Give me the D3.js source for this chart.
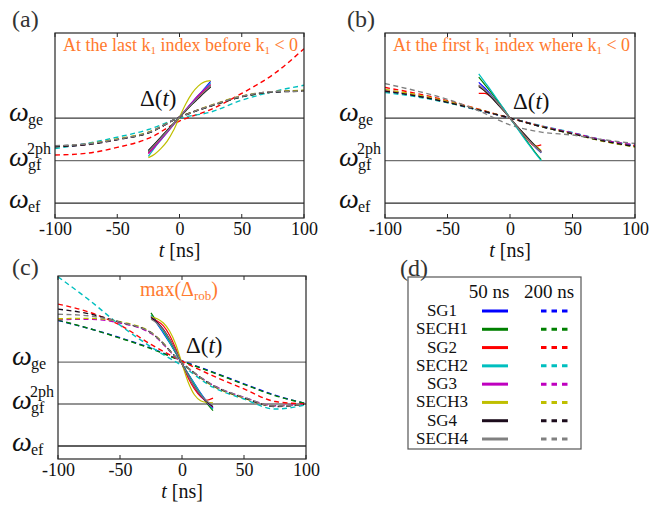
<!DOCTYPE html>
<html><head><meta charset="utf-8">
<script src="https://cdn.jsdelivr.net/npm/d3@7"></script>
<style>
body{margin:0;background:#fff}
svg{display:block}
svg text{font-family:"Liberation Serif","Tinos","Times New Roman","Nimbus Roman","DejaVu Serif",serif !important}
</style>
</head><body>
<svg id="chart" width="654" height="507"></svg>
<script>
// ---------- data ----------
const seriesNames  = ["SG1","SECH1","SG2","SECH2","SG3","SECH3","SG4","SECH4"];
const seriesColors = ["#0000ff","#008000","#ff0000","#00bfbf","#bf00bf","#bfbf00","#1c0c1c","#808080"];
const tShort = [-25,-20,-15,-10,-5,0,5,10,15,20,25];      // 50 ns pulses
const tLong  = [-100,-75,-50,-25,0,25,50,75,100];         // 200 ns pulses
const xTicks = [-100,-50,0,50,100];
const levelNames  = ["ge","gf","ef"];
const levelValues = [0,-1,-2];                            // ω_ge, ω_gf^2ph, ω_ef

// panel (a): at the last k1 index before k1 < 0
const panelA_50ns = [
  [-0.80,-0.64,-0.48,-0.32,-0.15,0.02,0.19,0.36,0.52,0.69,0.86],
  [-0.78,-0.62,-0.46,-0.30,-0.14,0.02,0.17,0.32,0.47,0.61,0.74],
  [-0.82,-0.66,-0.49,-0.33,-0.16,0.02,0.18,0.34,0.50,0.65,0.78],
  [-0.90,-0.70,-0.52,-0.34,-0.16,0.02,0.19,0.36,0.53,0.68,0.82],
  [-0.84,-0.68,-0.51,-0.34,-0.16,0.02,0.20,0.37,0.53,0.67,0.79],
  [-0.93,-0.85,-0.72,-0.55,-0.30,0.02,0.33,0.58,0.75,0.85,0.88],
  [-0.76,-0.61,-0.45,-0.29,-0.13,0.02,0.17,0.32,0.46,0.60,0.73],
  [-0.79,-0.63,-0.47,-0.31,-0.14,0.02,0.18,0.33,0.48,0.62,0.76]
];
const panelA_200ns = [
  [-0.66,-0.61,-0.50,-0.34,0.02,0.29,0.51,0.61,0.64],
  [-0.68,-0.62,-0.50,-0.35,0.02,0.28,0.50,0.61,0.65],
  [-0.87,-0.83,-0.69,-0.48,-0.07,0.20,0.58,1.02,1.63],
  [-0.72,-0.60,-0.45,-0.27,0.00,0.14,0.42,0.62,0.77],
  [-0.67,-0.62,-0.50,-0.34,0.02,0.29,0.51,0.62,0.64],
  [-0.66,-0.61,-0.49,-0.33,0.02,0.30,0.52,0.62,0.65],
  [-0.67,-0.63,-0.51,-0.35,0.02,0.28,0.50,0.61,0.63],
  [-0.65,-0.61,-0.50,-0.34,0.02,0.29,0.51,0.62,0.63]
];
// panel (b): at the first k1 index where k1 < 0
const panelB_50ns = [
  [0.84,0.70,0.54,0.37,0.19,0.00,-0.18,-0.36,-0.53,-0.68,-0.82],
  [0.96,0.78,0.60,0.41,0.21,0.00,-0.20,-0.40,-0.60,-0.80,-0.98],
  [0.58,0.58,0.50,0.36,0.19,0.00,-0.19,-0.37,-0.53,-0.66,-0.63],
  [1.04,0.84,0.64,0.43,0.22,0.00,-0.21,-0.42,-0.62,-0.82,-1.00],
  [0.78,0.65,0.50,0.34,0.17,0.00,-0.17,-0.34,-0.50,-0.65,-0.78],
  [0.76,0.64,0.50,0.34,0.17,0.00,-0.17,-0.34,-0.50,-0.64,-0.76],
  [0.74,0.63,0.49,0.33,0.17,0.00,-0.17,-0.33,-0.49,-0.65,-0.80],
  [0.77,0.66,0.52,0.36,0.18,0.00,-0.18,-0.36,-0.52,-0.67,-0.81]
];
const panelB_200ns = [
  [0.64,0.53,0.38,0.19,0.00,-0.20,-0.36,-0.53,-0.66],
  [0.65,0.53,0.37,0.19,0.00,-0.20,-0.37,-0.54,-0.67],
  [0.72,0.58,0.41,0.21,0.00,-0.19,-0.35,-0.52,-0.65],
  [0.60,0.50,0.36,0.18,0.00,-0.18,-0.34,-0.52,-0.64],
  [0.66,0.54,0.38,0.19,0.00,-0.19,-0.35,-0.52,-0.63],
  [0.67,0.55,0.39,0.20,0.00,-0.20,-0.37,-0.55,-0.68],
  [0.63,0.52,0.37,0.19,0.00,-0.20,-0.37,-0.54,-0.67],
  [0.81,0.64,0.44,0.17,-0.16,-0.33,-0.40,-0.51,-0.60]
];
// panel (c): max(Δ_rob)
const panelC_50ns = [
  [1.10,0.91,0.69,0.46,0.21,-0.04,-0.28,-0.51,-0.74,-0.94,-1.10],
  [1.17,0.95,0.73,0.48,0.22,-0.04,-0.29,-0.54,-0.77,-0.98,-1.16],
  [1.02,0.98,0.86,0.64,0.32,-0.04,-0.38,-0.64,-0.82,-0.91,-0.86],
  [1.12,0.92,0.71,0.47,0.22,-0.04,-0.29,-0.52,-0.75,-0.95,-1.12],
  [1.08,0.95,0.78,0.55,0.27,-0.04,-0.33,-0.59,-0.80,-0.96,-1.08],
  [1.08,1.03,0.93,0.74,0.42,-0.04,-0.48,-0.78,-0.92,-0.96,-0.97],
  [1.06,0.94,0.77,0.54,0.26,-0.04,-0.32,-0.58,-0.79,-0.95,-1.06],
  [1.02,0.92,0.76,0.54,0.26,-0.04,-0.32,-0.58,-0.78,-0.93,-1.03]
];
const panelC_200ns = [
  [0.99,0.80,0.58,0.33,0.03,-0.24,-0.52,-0.79,-0.99],
  [1.00,0.80,0.57,0.32,0.02,-0.25,-0.53,-0.80,-0.99],
  [1.38,1.19,0.88,0.42,0.02,-0.33,-0.64,-0.94,-1.00],
  [2.03,1.48,0.88,0.36,-0.09,-0.60,-0.88,-1.12,-1.02],
  [1.01,1.02,0.93,0.68,-0.03,-0.55,-0.84,-1.04,-1.00],
  [1.03,1.04,0.96,0.71,-0.02,-0.57,-0.86,-1.05,-1.00],
  [1.26,1.15,0.95,0.70,-0.02,-0.56,-0.85,-1.06,-1.00],
  [1.14,1.10,0.95,0.70,-0.02,-0.55,-0.84,-1.05,-1.00]
];

// ---------- layout ----------
const FONT = '"Liberation Serif","Tinos","Times New Roman","Nimbus Roman","DejaVu Serif",serif';
const svg = d3.select("#chart");
const orange = "#ff7a2e";
const panels = [
  {id:"a", label:"(a)", lx:12, ly:27, x0:55, x1:304, y0:33, y1:218, dom:[-2.35,2.0],
   s:panelA_50ns, l:panelA_200ns, dx:140, dy:106, geCol:"#3a3a3a", gfCol:"#707070",
   note:["At the last k","1"," index before k","1"," < 0"], nx:63, ny:51},
  {id:"b", label:"(b)", lx:347, ly:27, x0:385, x1:635, y0:33, y1:218, dom:[-2.35,2.0],
   s:panelB_50ns, l:panelB_200ns, dx:513, dy:109, geCol:"#3a3a3a", gfCol:"#707070",
   note:["At the first k","1"," index where k","1"," < 0"], nx:393, ny:51},
  {id:"c", label:"(c)", lx:12, ly:275, x0:58, x1:306, y0:276, y1:459, dom:[-2.31,2.05],
   s:panelC_50ns, l:panelC_200ns, dx:186, dy:353, geCol:"#707070", gfCol:"#707070",
   note:null, nx:140, ny:296}
];

panels.forEach(p => {
  const x = d3.scaleLinear().domain([-100,100]).range([p.x0,p.x1]);
  const y = d3.scaleLinear().domain(p.dom).range([p.y1,p.y0]);
  const g = svg.append("g").attr("font-family",FONT);
  const clipId = "clip-" + p.id;
  svg.append("clipPath").attr("id",clipId).append("rect")
    .attr("x",p.x0).attr("y",p.y0).attr("width",p.x1-p.x0).attr("height",p.y1-p.y0);

  const lvlCols = [p.geCol, p.gfCol, "#2a2a2a"];
  levelValues.forEach((v,i) => {
    g.append("line").attr("x1",p.x0).attr("x2",p.x1).attr("y1",y(v)).attr("y2",y(v))
      .attr("stroke",lvlCols[i]).attr("stroke-width",1.3);
  });

  const lineS = d3.line().x((d,i)=>x(tShort[i])).y(d=>y(d)).curve(d3.curveMonotoneX);
  const lineL = d3.line().x((d,i)=>x(tLong[i])).y(d=>y(d)).curve(d3.curveMonotoneX);
  const plot = g.append("g").attr("clip-path",`url(#${clipId})`);
  p.l.forEach((vals,k) => {
    plot.append("path").attr("d",lineL(vals)).attr("fill","none")
      .attr("stroke",seriesColors[k]).attr("stroke-width",1.4).attr("stroke-dasharray","5,3.5");
  });
  p.s.forEach((vals,k) => {
    plot.append("path").attr("d",lineS(vals)).attr("fill","none")
      .attr("stroke",seriesColors[k]).attr("stroke-width",1.2);
  });

  g.append("rect").attr("x",p.x0).attr("y",p.y0).attr("width",p.x1-p.x0).attr("height",p.y1-p.y0)
    .attr("fill","none").attr("stroke","#262626").attr("stroke-width",1.2);

  const ax = g.append("g").attr("transform",`translate(0,${p.y1})`)
    .call(d3.axisBottom(x).tickValues(xTicks).tickSize(0).tickPadding(4).tickFormat(d=>String(d)));
  ax.attr("font-family",FONT).attr("font-size",18);
  ax.select(".domain").remove();
  ax.selectAll("text").attr("fill","#111");
  xTicks.forEach(t => {
    g.append("line").attr("x1",x(t)).attr("x2",x(t)).attr("y1",p.y1).attr("y2",p.y1-4).attr("stroke","#262626");
    g.append("line").attr("x1",x(t)).attr("x2",x(t)).attr("y1",p.y0).attr("y2",p.y0+4).attr("stroke","#262626");
  });
  const xl = g.append("text").attr("x",(p.x0+p.x1)/2).attr("y",p.y1+39).attr("text-anchor","middle")
    .attr("font-size",20).attr("fill","#111");
  xl.append("tspan").attr("font-style","italic").text("t");
  xl.append("tspan").text(" [ns]");

  levelValues.forEach((v,i) => {
    const base = y(v) + (i===0 ? 3 : 5);
    g.append("text").attr("x",p.x0-46).attr("y",base).attr("font-size",28)
      .attr("font-style","italic").attr("fill","#111").text("ω");
    g.append("text").attr("x",p.x0-27).attr("y",base+4).attr("font-size",16)
      .attr("fill","#111").text(levelNames[i]);
    if (i===1) g.append("text").attr("x",p.x0-28).attr("y",base-12).attr("font-size",16)
      .attr("fill","#111").text("2ph");
  });

  g.append("text").attr("x",p.lx).attr("y",p.ly).attr("font-size",24).attr("fill","#333").text(p.label);

  const dt = g.append("text").attr("x",p.dx).attr("y",p.dy).attr("font-size",23).attr("fill","#111");
  dt.append("tspan").text("Δ(");
  dt.append("tspan").attr("font-style","italic").text("t");
  dt.append("tspan").text(")");

  const nt = g.append("text").attr("x",p.nx).attr("y",p.ny).attr("fill",orange);
  if (p.note) {
    nt.attr("font-size",18);
    p.note.forEach((s,i) => {
      if (i%2===1) nt.append("tspan").attr("font-size",11).attr("dy",3).text(s);
      else nt.append("tspan").attr("dy", i===0?0:-3).text(s);
    });
  } else {
    nt.attr("font-size",20);
    nt.append("tspan").text("max(Δ");
    nt.append("tspan").attr("font-size",13).attr("dy",4).text("rob");
    nt.append("tspan").attr("dy",-4).text(")");
  }
});

// ---------- legend (d) ----------
const lg = svg.append("g").attr("font-family",FONT);
lg.append("text").attr("x",400).attr("y",276).attr("font-size",24).attr("fill","#333").text("(d)");
lg.append("rect").attr("x",408).attr("y",277).attr("width",173).attr("height",172)
  .attr("fill","none").attr("stroke","#555").attr("stroke-width",1.2);
lg.append("text").attr("x",489).attr("y",298).attr("text-anchor","middle").attr("font-size",19).attr("fill","#111").text("50 ns");
lg.append("text").attr("x",549).attr("y",298).attr("text-anchor","middle").attr("font-size",19).attr("fill","#111").text("200 ns");
const rowY = d3.scalePoint().domain(seriesNames).range([311,439]);
seriesNames.forEach((nm,k) => {
  const yy = rowY(nm);
  lg.append("text").attr("x",442).attr("y",yy+5).attr("text-anchor","middle").attr("font-size",17).attr("fill","#111").text(nm);
  lg.append("line").attr("x1",482).attr("x2",508).attr("y1",yy).attr("y2",yy)
    .attr("stroke",seriesColors[k]).attr("stroke-width",3);
  lg.append("line").attr("x1",541).attr("x2",568).attr("y1",yy).attr("y2",yy)
    .attr("stroke",seriesColors[k]).attr("stroke-width",3).attr("stroke-dasharray","5.5,5");
});
</script>
</body></html>
